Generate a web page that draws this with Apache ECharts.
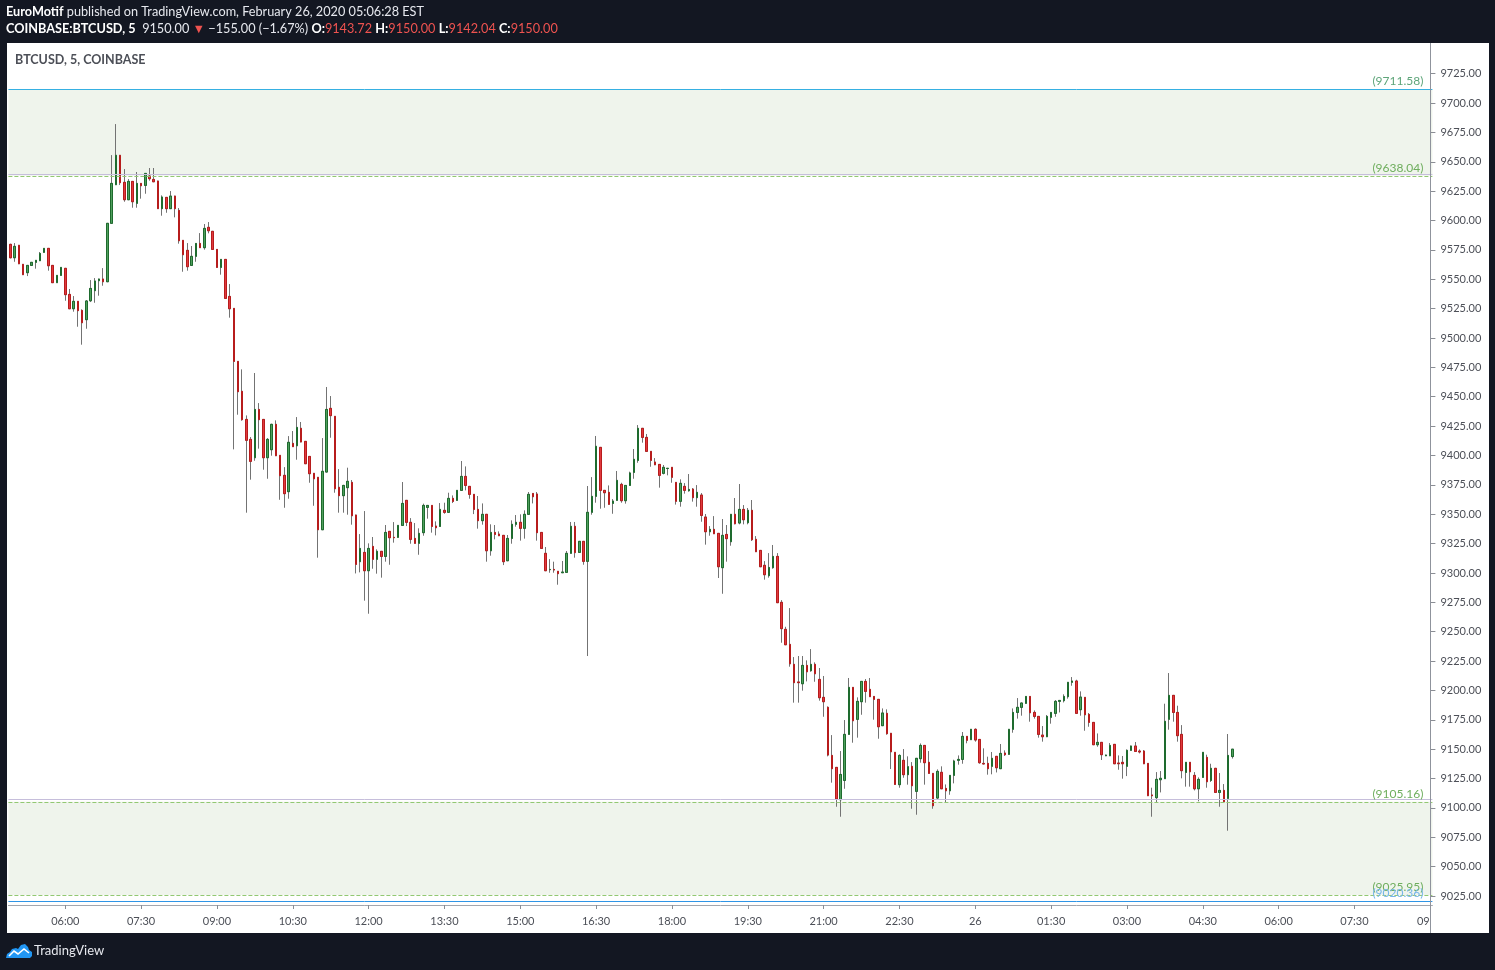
<!DOCTYPE html>
<html><head><meta charset="utf-8">
<script src="https://cdn.jsdelivr.net/npm/echarts@6/dist/echarts.min.js"></script>
<style>html,body{margin:0;padding:0;background:#131722;overflow:hidden}#c{width:1495px;height:970px;}</style>
</head><body><div id="c"></div><script>
// ---- data: BTCUSD 5-minute candles, Feb 25 04:55 -> Feb 26 05:05 ----
const opens = [
9579.7,9568.3,9578.9,9562.7,9555.6,9561.8,9564.4,9565.8,9572.9,9576.3,
9561.8,9547.1,9553.3,9559.3,9537.1,9524.9,9531.2,9523.5,9515.6,9531.7,
9540.3,9548.8,9550.2,9547.9,9597.6,9630.5,9655.5,9632.5,9617.7,9633.3,
9614.6,9631.6,9629.9,9637.9,9635.0,9633.6,9610.1,9619.7,9610.1,9620.8,
9608.6,9583.1,9574.6,9561.8,9569.5,9580.5,9576.9,9594.2,9590.8,9575.4,
9560.1,9566.9,9535.4,9525.2,9480.1,9454.6,9430.7,9413.7,9398.1,9439.2,
9430.7,9398.1,9404.9,9426.5,9400.1,9383.1,9369.2,9410.3,9408.3,9423.1,
9412.0,9399.2,9384.8,9381.4,9336.8,9385.9,9440.1,9433.3,9372.9,9365.8,
9372.6,9377.1,9349.3,9309.6,9317.5,9301.9,9322.6,9311.6,9318.4,9314.1,
9335.4,9330.3,9330.3,9340.5,9361.8,9343.1,9329.4,9325.2,9334.3,9355.8,
9357.5,9339.9,9339.6,9353.3,9351.6,9363.5,9361.8,9370.3,9382.2,9373.7,
9366.9,9354.1,9344.5,9349.9,9318.9,9334.5,9333.1,9332.0,9310.4,9329.4,
9341.4,9343.1,9338.0,9349.9,9367.7,9367.2,9334.5,9316.7,9302.8,9303.0,
9301.4,9300.2,9300.5,9316.7,9339.7,9317.5,9326.9,9309.9,9351.6,9365.2,
9406.9,9370.3,9368.6,9359.2,9361.8,9375.4,9361.5,9374.5,9385.6,9395.8,
9423.1,9415.4,9403.5,9394.4,9392.4,9384.8,9388.9,9389.9,9377.1,9361.0,
9373.7,9370.0,9371.4,9364.1,9366.3,9347.6,9335.1,9337.1,9333.7,9304.5,
9332.8,9326.6,9349.9,9342.5,9354.1,9342.8,9353.3,9328.6,9319.2,9306.5,
9297.7,9304.5,9314.1,9275.0,9252.0,9239.2,9222.2,9207.2,9205.7,9221.3,
9216.8,9222.2,9209.4,9194.1,9185.6,9144.7,9134.5,9107.0,9123.4,9162.6,
9202.6,9175.4,9190.4,9207.7,9200.9,9194.9,9192.4,9170.0,9180.5,9163.5,
9147.3,9119.8,9140.5,9128.3,9135.4,9114.1,9141.9,9153.2,9138.8,9129.4,
9108.4,9130.3,9116.6,9114.6,9127.7,9140.5,9141.3,9160.9,9158.1,9166.9,
9158.3,9137.9,9137.9,9135.4,9143.9,9133.4,9146.7,9145.6,9166.9,9181.3,
9185.6,9189.0,9194.9,9181.3,9177.9,9162.0,9160.6,9177.1,9180.5,9190.7,
9191.3,9194.7,9206.9,9208.0,9183.6,9194.1,9179.6,9172.8,9153.8,9155.8,
9144.4,9144.4,9154.1,9138.2,9138.8,9135.4,9149.0,9152.7,9148.4,9148.4,
9137.9,9111.0,9108.7,9124.0,9124.9,9175.4,9195.8,9181.3,9162.6,9130.2,
9138.8,9127.7,9116.3,9126.0,9143.0,9123.4,9133.7,9113.2,9114.9,9108.1,
9143.72
];
const highs = [
9580.2,9580.8,9579.2,9563.0,9562.1,9564.7,9566.4,9573.2,9576.6,9576.6,
9562.1,9553.6,9560.4,9559.6,9541.7,9535.7,9531.5,9524.4,9532.3,9549.3,
9551.0,9550.5,9559.5,9597.9,9655.7,9682.1,9655.8,9643.8,9635.3,9633.6,
9641.3,9631.9,9640.4,9644.7,9644.7,9633.9,9621.4,9620.0,9625.1,9621.1,
9610.6,9583.4,9580.8,9578.3,9580.8,9589.3,9597.0,9598.7,9591.1,9575.7,
9567.2,9567.2,9545.9,9525.5,9480.4,9473.3,9434.1,9415.7,9470.2,9444.6,
9431.0,9414.8,9427.0,9429.9,9400.4,9390.1,9416.5,9420.8,9432.7,9428.5,
9412.3,9399.5,9385.1,9381.7,9414.8,9458.3,9450.6,9433.6,9388.4,9375.0,
9389.6,9379.1,9349.6,9333.1,9352.7,9325.2,9330.6,9320.1,9318.7,9340.8,
9335.7,9343.3,9340.8,9377.4,9362.1,9346.7,9342.5,9338.0,9359.0,9357.8,
9357.8,9343.9,9359.5,9359.8,9368.3,9366.0,9370.6,9395.3,9390.7,9374.0,
9367.2,9365.5,9359.2,9350.2,9341.4,9340.8,9335.4,9332.3,9332.3,9344.8,
9349.3,9349.9,9353.3,9368.9,9368.0,9368.9,9334.8,9322.1,9311.8,9309.6,
9301.7,9310.2,9318.7,9343.4,9343.4,9327.2,9327.2,9374.0,9381.6,9416.6,
9407.2,9370.6,9374.5,9362.9,9386.8,9376.8,9374.8,9386.2,9405.5,9425.9,
9423.4,9418.3,9403.8,9397.8,9392.7,9391.9,9389.3,9390.2,9377.4,9379.7,
9376.5,9384.2,9372.3,9374.8,9368.0,9350.2,9339.9,9348.4,9334.0,9345.9,
9340.8,9350.2,9363.8,9375.7,9357.8,9355.3,9362.1,9331.4,9319.5,9310.1,
9316.9,9323.8,9316.9,9276.9,9254.2,9270.1,9228.4,9229.3,9229.3,9225.6,
9235.2,9223.9,9219.1,9212.3,9186.4,9162.0,9134.8,9148.4,9174.8,9210.6,
9202.9,9194.1,9208.0,9209.7,9210.6,9195.2,9192.7,9184.7,9183.9,9163.8,
9147.6,9145.6,9150.1,9143.9,9139.0,9142.5,9154.9,9153.5,9148.4,9129.7,
9132.8,9135.4,9120.0,9128.0,9141.0,9144.7,9164.6,9161.2,9167.2,9167.7,
9158.6,9150.7,9143.6,9147.6,9144.2,9154.4,9149.0,9167.2,9184.7,9193.5,
9189.6,9195.2,9195.2,9183.0,9178.2,9169.7,9179.1,9181.6,9191.8,9191.8,
9196.7,9207.2,9211.4,9209.1,9199.2,9194.4,9180.8,9173.1,9163.4,9156.1,
9145.3,9155.2,9154.4,9144.7,9144.2,9149.8,9153.0,9156.1,9149.8,9149.3,
9138.2,9117.2,9130.5,9131.4,9188.7,9214.8,9196.1,9187.0,9170.5,9139.1,
9139.1,9130.5,9126.0,9147.6,9145.3,9137.6,9134.0,9129.7,9120.3,9162.9,
9150.00
];
const lows = [
9567.8,9564.9,9562.9,9553.6,9552.7,9561.5,9559.0,9565.5,9572.6,9557.3,
9546.8,9546.8,9553.0,9531.7,9524.6,9522.4,9509.6,9494.3,9507.9,9530.6,
9530.0,9536.0,9544.5,9547.6,9597.3,9630.2,9630.2,9616.0,9617.4,9610.9,
9610.9,9618.6,9622.8,9633.9,9632.7,9609.8,9604.1,9606.6,9609.8,9602.7,
9580.3,9556.4,9557.3,9561.5,9564.9,9576.6,9575.2,9589.1,9575.1,9559.8,
9553.9,9533.4,9517.3,9405.2,9434.7,9429.6,9351.3,9379.4,9395.5,9405.8,
9387.9,9380.2,9399.8,9399.5,9362.3,9355.5,9363.2,9407.2,9396.4,9411.2,
9392.7,9376.8,9357.2,9313.0,9336.5,9385.6,9415.1,9368.3,9351.3,9351.3,
9349.6,9341.1,9299.6,9300.5,9276.4,9265.3,9303.6,9299.4,9296.0,9309.6,
9307.0,9325.8,9330.0,9340.2,9339.9,9324.9,9325.0,9315.5,9331.7,9346.2,
9334.3,9332.0,9339.3,9350.4,9351.3,9359.5,9361.5,9370.0,9370.3,9363.2,
9350.1,9337.7,9341.1,9309.6,9314.7,9328.6,9331.4,9306.7,9310.1,9324.9,
9339.4,9327.5,9329.2,9349.6,9359.2,9327.5,9320.6,9301.6,9300.2,9300.2,
9290.0,9299.9,9300.2,9316.4,9313.0,9317.2,9307.0,9229.3,9349.6,9359.8,
9354.7,9355.5,9358.1,9350.4,9361.5,9359.8,9359.0,9374.2,9380.2,9393.8,
9410.9,9403.2,9390.4,9391.8,9372.6,9383.9,9383.1,9376.8,9358.2,9356.4,
9367.5,9369.2,9360.7,9356.4,9343.6,9324.1,9331.7,9333.1,9295.7,9282.3,
9309.6,9323.2,9341.4,9341.4,9341.4,9341.4,9327.2,9317.8,9305.0,9294.3,
9296.0,9303.6,9274.4,9240.6,9238.6,9220.2,9189.6,9189.6,9199.8,9207.7,
9215.9,9207.4,9191.3,9177.6,9143.9,9121.5,9101.0,9092.5,9116.3,9162.3,
9155.5,9159.8,9179.3,9189.6,9194.4,9175.1,9158.9,9169.7,9162.3,9133.1,
9119.7,9117.2,9125.7,9119.8,9099.3,9094.2,9138.5,9119.8,9129.1,9099.3,
9107.6,9116.0,9104.7,9111.2,9120.9,9136.8,9137.6,9155.0,9157.8,9156.4,
9137.6,9137.1,9128.3,9128.6,9130.2,9133.1,9144.2,9145.3,9164.0,9176.0,
9178.5,9188.7,9173.4,9176.0,9159.8,9156.4,9160.3,9171.7,9177.6,9181.3,
9189.8,9193.0,9204.0,9180.2,9178.5,9165.7,9169.1,9153.5,9152.1,9140.8,
9144.1,9144.1,9137.3,9132.5,9124.9,9127.1,9148.7,9147.8,9146.4,9137.3,
9110.1,9092.5,9104.4,9113.2,9124.6,9166.6,9173.4,9156.4,9125.2,9118.1,
9118.1,9114.9,9105.6,9125.7,9117.2,9122.1,9112.9,9101.0,9104.4,9080.6,
9142.04
];
const closes = [
9568.3,9578.0,9563.2,9553.9,9561.8,9564.4,9566.1,9572.0,9576.3,9561.5,
9547.1,9553.3,9560.1,9536.9,9524.9,9531.2,9523.3,9513.0,9531.5,9542.2,
9548.5,9550.2,9547.9,9597.6,9631.6,9655.5,9632.2,9617.7,9633.3,9616.0,
9631.6,9629.6,9640.1,9635.6,9633.0,9610.1,9620.0,9610.1,9620.8,9610.1,
9582.8,9570.9,9560.7,9569.5,9580.5,9576.9,9593.3,9591.3,9575.4,9560.1,
9566.9,9533.7,9524.9,9480.1,9454.3,9430.5,9412.9,9395.0,9439.2,9430.5,
9398.1,9413.7,9426.5,9399.8,9382.8,9367.5,9411.2,9407.5,9423.9,9411.5,
9393.0,9384.5,9380.2,9336.8,9386.5,9439.2,9433.9,9371.7,9365.8,9374.5,
9378.0,9348.7,9307.3,9320.9,9301.9,9320.9,9311.6,9318.4,9314.1,9334.5,
9330.0,9330.0,9340.5,9359.2,9343.1,9328.6,9325.2,9333.7,9357.5,9357.5,
9339.6,9338.5,9354.1,9351.6,9363.5,9360.9,9370.3,9382.2,9374.5,9366.9,
9354.1,9344.5,9349.9,9318.9,9334.5,9332.8,9331.7,9309.6,9329.4,9341.4,
9343.1,9338.0,9349.9,9366.9,9364.9,9334.3,9320.9,9301.9,9303.0,9302.5,
9299.4,9300.8,9316.7,9339.7,9317.3,9326.9,9309.9,9351.6,9365.2,9407.8,
9370.3,9368.3,9358.4,9361.2,9378.8,9361.5,9374.5,9385.1,9396.7,9423.1,
9415.4,9403.5,9395.8,9392.1,9383.1,9389.9,9389.1,9381.4,9361.0,9376.3,
9370.3,9371.1,9364.1,9368.6,9349.0,9335.1,9337.1,9333.4,9305.3,9332.0,
9329.2,9349.9,9341.9,9354.1,9345.3,9353.3,9328.3,9318.1,9305.3,9298.5,
9304.7,9314.1,9274.7,9252.6,9238.9,9222.7,9206.6,9206.6,9221.3,9215.9,
9222.2,9214.2,9193.8,9190.4,9145.0,9133.4,9107.6,9128.5,9162.6,9202.6,
9174.2,9190.7,9207.7,9199.2,9194.7,9192.4,9169.1,9180.8,9163.2,9147.8,
9120.0,9144.7,9128.3,9135.1,9118.9,9142.2,9153.2,9138.5,9129.4,9101.9,
9131.1,9116.3,9114.6,9127.7,9139.9,9141.3,9160.9,9157.5,9166.9,9157.8,
9138.5,9137.4,9133.4,9142.2,9134.2,9146.4,9145.3,9166.9,9181.3,9185.6,
9189.3,9194.9,9181.0,9177.9,9162.6,9160.6,9177.9,9181.3,9190.7,9191.5,
9194.9,9206.9,9208.0,9180.5,9194.4,9179.3,9172.8,9153.8,9155.8,9145.3,
9145.0,9153.2,9137.6,9137.6,9137.6,9149.0,9152.7,9148.1,9147.6,9137.6,
9110.4,9110.4,9124.3,9125.2,9173.7,9195.8,9181.3,9161.5,9131.7,9138.8,
9130.8,9116.3,9124.3,9147.3,9122.3,9133.7,9113.2,9114.9,9105.3,9144.7,
9150.00
];
// time-axis categories: 5-minute slots from 25th 04:55 to 26th 09:00
const START_DAY = 25, START_MINUTE = 4 * 60 + 55, STEP_MINUTES = 5, SLOT_COUNT = 338;
const tickKeys = ['25 06:00','25 07:30','25 09:00','25 10:30','25 12:00','25 13:30','25 15:00','25 16:30',
  '25 18:00','25 19:30','25 21:00','25 22:30','26 00:00','26 01:30','26 03:00','26 04:30','26 06:00','26 07:30','26 09:00'];
const tickLabels = ['06:00','07:30','09:00','10:30','12:00','13:30','15:00','16:30','18:00','19:30','21:00',
  '22:30','26','01:30','03:00','04:30','06:00','07:30','09'];
// horizontal levels drawn on the chart
const zoneTop = [9638.04, 9711.58];
const zoneBottom = [9025.95, 9105.16];
const levelValues = [9711.58, 9638.04, 9105.16, 9025.95, 9020.36];
const levelLabels = ['(9711.58)', '(9638.04)', '(9105.16)', '(9025.95)', '(9020.36)'];
const guideValues = [9639.8, 9107.0];

// ---- build ----
const pad = n => (n < 10 ? '0' : '') + n;
const categories = [];
for (let i = 0; i < SLOT_COUNT; i++) {
  const t = START_MINUTE + i * STEP_MINUTES;
  const d = START_DAY + Math.floor(t / 1440), m = t % 1440;
  categories.push(d + ' ' + pad(Math.floor(m / 60)) + ':' + pad(m % 60));
}
const candleData = opens.map((o, i) => [o, closes[i], lows[i], highs[i]]);
const bodyData = opens.map((o, i) => [o, closes[i], Math.min(o, closes[i]), Math.max(o, closes[i])]);

const FONT = 'Lato, "Open Sans", sans-serif';
const chart = echarts.init(document.getElementById('c'), null, {renderer: 'canvas', width: 1495, height: 970});
const isTick = (idx, val) => tickKeys.indexOf(val) >= 0;

const lineColors = ['#36b0e2', '#92c872', '#92c872', '#92c872', '#2f95e6'];
const lineTypes = ['solid', 'dashed', 'dashed', 'dashed', 'solid'];
const labelColors = ['#5ea57a', '#6fae5e', '#6fae5e', '#6fae5e', '#76b6ea'];
const levelSeries = levelValues.map((v, i) => ({
  type: 'line', name: 'level' + i, silent: true, symbol: 'none', z: 5, data: [],
  markLine: {silent: true, symbol: ['none', 'none'], animation: false,
    lineStyle: {color: lineColors[i], type: lineTypes[i], width: 1, opacity: 1},
    emphasis: {disabled: true},
    data: [{yAxis: v, label: {show: true, formatter: levelLabels[i], position: 'insideEndTop',
      color: labelColors[i], fontSize: 12, fontFamily: FONT, distance: [9, 2]}}]}
}));
const guideSeries = guideValues.map((v, i) => ({
  type: 'line', name: 'guide' + i, silent: true, symbol: 'none', z: 5, data: [],
  markLine: {silent: true, symbol: ['none', 'none'], animation: false,
    lineStyle: {color: '#c6bedb', type: 'solid', width: 1, opacity: 1}, emphasis: {disabled: true},
    data: [{yAxis: v, label: {show: false}}]}
}));

chart.setOption({
  backgroundColor: '#131722',
  animation: false,
  graphic: [
    {type: 'rect', z: -10, shape: {x: 7, y: 43, width: 1482, height: 890}, style: {fill: '#ffffff'}},
    {type: 'line', z: 50, shape: {x1: 1430.5, y1: 43, x2: 1430.5, y2: 933}, style: {stroke: '#8f939c', lineWidth: 1}},
    {type: 'text', z: 50, x: 6, y: 12, style: {
      text: '{b|EuroMotif} published on TradingView.com, February 26, 2020 05:06:28 EST',
      rich: {b: {fontWeight: 'bold', fill: '#ffffff', fontSize: 12.7, fontFamily: FONT}},
      fill: '#e6e8ee', fontSize: 12.7, fontFamily: FONT, verticalAlign: 'middle'}},
    {type: 'text', z: 50, x: 6, y: 29, style: {
      text: '{b|COINBASE:BTCUSD, 5}  9150.00 {r|▼} −155.00 (−1.67%) {b|O:}{r|9143.72} {b|H:}{r|9150.00} {b|L:}{r|9142.04} {b|C:}{r|9150.00}',
      rich: {b: {fontWeight: 'bold', fill: '#ffffff', fontSize: 12.7, fontFamily: FONT},
             r: {fill: '#ef5350', fontSize: 12.7, fontFamily: FONT}},
      fill: '#e6e8ee', fontSize: 12.7, fontFamily: FONT, verticalAlign: 'middle'}},
    {type: 'text', z: 50, x: 15, y: 60, style: {text: 'BTCUSD, 5, COINBASE', fill: '#4c4f57',
      fontSize: 12.5, fontWeight: 'bold', fontFamily: FONT, verticalAlign: 'middle'}},
    {type: 'polygon', z: 50, x: 6, y: 943, shape: {points: [[0, 15], [1, 11], [4, 9], [6, 6], [10, 5], [12, 6], [15, 2],
      [19, 1], [22, 4], [23, 7], [26, 9], [26, 13], [24, 15]]}, style: {fill: '#2196f3'}},
    {type: 'polyline', z: 51, x: 6, y: 943, shape: {points: [[3, 13], [8, 8], [12, 11], [18, 6], [23, 10]]},
      style: {stroke: '#ffffff', lineWidth: 1.6, fill: null}},
    {type: 'text', z: 50, x: 34, y: 951, style: {text: 'TradingView', fill: '#e6e8ee', fontSize: 13,
      fontFamily: FONT, verticalAlign: 'middle'}}
  ],
  grid: {left: 8.4, right: 62.6, top: 44.3, bottom: 44.6, containLabel: false},
  xAxis: {
    type: 'category', data: categories, boundaryGap: true, offset: -20.4,
    axisLine: {show: true, lineStyle: {color: '#a3a6ad', width: 1}},
    axisTick: {show: true, alignWithLabel: true, interval: isTick, length: 4, lineStyle: {color: '#8a8d94'}},
    axisLabel: {interval: isTick, margin: 11, color: '#4c4f57', fontSize: 11, fontFamily: FONT,
      formatter: val => { const k = tickKeys.indexOf(val); const t = k >= 0 ? tickLabels[k] : '';
        return k === tickKeys.length - 1 ? '{e|' + t + '}' : t; },
      rich: {e: {padding: [0, 14, 0, 0], color: '#4c4f57', fontSize: 11, fontFamily: FONT}}},
    splitLine: {show: false}
  },
  yAxis: {
    type: 'value', position: 'right', min: 9000, max: 9750, interval: 25, offset: -2,
    axisLine: {show: false},
    axisTick: {show: true, length: 5, lineStyle: {color: '#8a8d94'}},
    axisLabel: {formatter: v => v.toFixed(2), showMinLabel: false, showMaxLabel: false, margin: 10,
      color: '#4c4f57', fontSize: 11, fontFamily: FONT},
    splitLine: {show: false}
  },
  series: [
    {
      type: 'candlestick', name: 'wicks', data: candleData, barWidth: 2, z: 3,
      itemStyle: {color: '#4f9f5d', color0: '#e0393e', borderColor: '#737373', borderColor0: '#737373', borderWidth: 1},
      markArea: {silent: true, z: 0,
        itemStyle: {color: '#eff4ec', borderWidth: 0, borderColor: 'rgba(0,0,0,0)'},
        emphasis: {disabled: true},
        data: [[{yAxis: zoneTop[1]}, {yAxis: zoneTop[0]}], [{yAxis: zoneBottom[1]}, {yAxis: zoneBottom[0]}]]}
    },
    {
      type: 'candlestick', name: 'bodies', data: bodyData, barWidth: 2, z: 4,
      itemStyle: {color: '#4f9f5d', color0: '#e0393e', borderColor: '#1e6b2e', borderColor0: '#b71c1c', borderWidth: 1}
    }
  ].concat(guideSeries, levelSeries)
});
</script></body></html>
